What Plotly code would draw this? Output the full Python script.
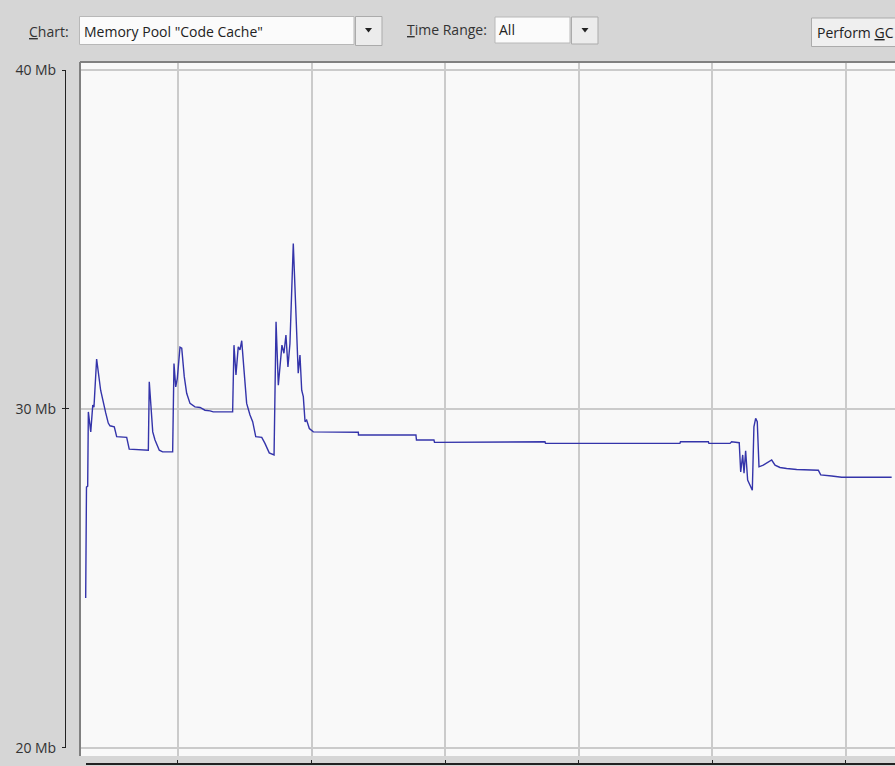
import plotly.graph_objects as go

# ------------------------------------------------------------------ #
# Data: memory pool "Code Cache" usage (minutes since start, Mb)
# ------------------------------------------------------------------ #
TIME_MIN = [
    3.09, 3.15, 3.24, 3.29, 3.47, 3.62, 3.71, 3.91, 4.21, 4.41, 4.59, 4.78,
    4.91, 5.23, 5.41, 6.16, 6.35, 7.78, 7.85, 8.11, 8.28, 8.60, 8.85, 9.60,
    9.70, 9.83, 9.95, 10.15, 10.28, 10.47, 10.65, 10.90, 11.27, 11.65, 12.02,
    12.40, 12.64, 14.09, 14.19, 14.34, 14.51, 14.64, 14.77, 14.94, 15.14,
    15.39, 15.59, 15.82, 16.27, 16.51, 16.83, 17.19, 17.34, 17.51, 17.63,
    17.78, 17.93, 18.08, 18.23, 18.38, 18.63, 18.83, 19.00, 19.13, 19.26,
    19.38, 19.51, 19.63, 19.83, 20.13, 20.38, 22.25, 23.50, 23.51, 27.81,
    27.85, 29.16, 29.20, 33.11, 33.13, 37.47, 37.51, 47.57, 47.61, 49.70,
    49.74, 51.32, 51.44, 52.01, 52.12, 52.27, 52.37, 52.49, 52.64, 52.99,
    53.11, 53.24, 53.36, 53.49, 53.81, 54.44, 54.69, 55.06, 55.56, 56.31,
    57.93, 58.11, 58.93, 59.68, 63.42,
]
POOL_MB = [
    24.42, 27.69, 27.72, 29.91, 29.32, 30.11, 30.05, 31.47, 30.55, 30.17, 29.88, 29.58,
    29.50, 29.47, 29.18, 29.16, 28.81, 28.78, 30.80, 29.32, 29.08, 28.78, 28.73, 28.73,
    31.34, 30.65, 30.90, 31.82, 31.79, 30.95, 30.46, 30.16, 30.06, 30.04, 29.96,
    29.94, 29.91, 29.91, 31.88, 31.00, 31.83, 31.74, 32.01, 31.15, 30.16,
    29.82, 29.62, 29.18, 29.16, 28.98, 28.70, 28.64, 32.57, 30.70, 31.34,
    31.88, 31.64, 32.18, 31.24, 31.93, 34.88, 32.82, 31.05, 31.59, 30.55,
    30.36, 29.62, 29.67, 29.42, 29.32, 29.32, 29.31, 29.31, 29.23, 29.23,
    29.08, 29.08, 29.01, 29.01, 29.03, 29.03, 28.98, 28.98, 29.03, 29.03,
    28.98, 28.98, 29.03, 29.00, 28.14, 28.64, 28.10, 28.76, 27.90, 27.60,
    29.47, 29.72, 29.62, 28.29, 28.34, 28.49, 28.34, 28.27, 28.24, 28.21,
    28.19, 28.05, 28.02, 27.98, 27.98,
]
Y_TICKS = [20, 30, 40]
Y_TICK_TEXT = ["20 Mb", "30 Mb", "40 Mb"]
X_RANGE = [2.665, 63.67]      # visible time window, minutes
MIN_PER_PX = 10 / 133.6        # time scale of the panel

# ------------------------------------------------------------------ #
# Design tokens
# ------------------------------------------------------------------ #
BG = "#d6d6d6"
PANEL = "#f9f9f9"
GRID = "#cbcbcb"
LINE = "#3434aa"
TEXT = "#333333"
AXIS = "#222222"
FONT = "Open Sans, Noto Sans, sans-serif"

W, H = 895, 766
ML, MB = 65, 2
PW, PH = W - ML, H - MB  # paper size in px


def px(x):
    return (x - ML) / PW


def py(y):
    return (PH - y) / PH


fig = go.Figure()
fig.add_trace(go.Scatter(x=TIME_MIN, y=POOL_MB, mode="lines",
                         line=dict(color=LINE, width=1.4), hoverinfo="skip",
                         showlegend=False))
# anchor traces for the free-standing axes
fig.add_trace(go.Scatter(x=[None], y=[None], xaxis="x2", yaxis="y2",
                         showlegend=False, hoverinfo="skip"))
fig.add_trace(go.Scatter(x=[None], y=[None], xaxis="x2", yaxis="y3",
                         showlegend=False, hoverinfo="skip"))

# ------------------------------------------------------------------ #
# Panel + toolbar widgets
# ------------------------------------------------------------------ #
shapes = [dict(type="rect", xref="paper", yref="paper", x0=px(80), x1=1.02,
               y0=py(756), y1=py(63), fillcolor=PANEL, line=dict(width=0),
               layer="below")]


def box(x0, y0, x1, y1, fill, line="#ababab"):
    shapes.append(dict(type="rect", xref="paper", yref="paper",
                       x0=px(x0), x1=px(x1), y0=py(y1), y1=py(y0),
                       fillcolor=fill, line=dict(color=line, width=1), layer="above"))


def arrow(cx, cy):
    shapes.append(dict(type="path", xref="paper", yref="paper", layer="above",
                       path=f"M{px(cx - 3.5)},{py(cy - 2)} L{px(cx + 3.5)},{py(cy - 2)} "
                            f"L{px(cx)},{py(cy + 2.5)} Z",
                       fillcolor=AXIS, line=dict(width=0)))


box(79.5, 16.5, 354, 44.5, "#fbfbfb", "#b8b8b8")
box(355.5, 16.5, 382, 45.5, "#ececec")
arrow(368.5, 30)
box(495, 17, 570, 43, "#fbfbfb", "#b8b8b8")
box(571.5, 17, 598, 44, "#ececec")
arrow(585, 30)
box(811.5, 18, 900, 46.5, "#efefef")

# panel border (sunken look, left + top)
shapes.append(dict(type="line", xref="paper", yref="paper", x0=px(80), x1=px(80),
                   y0=py(756), y1=py(62), line=dict(color="#808080", width=2), layer="above"))
shapes.append(dict(type="line", xref="paper", yref="paper", x0=px(80), x1=1.02,
                   y0=py(62), y1=py(62), line=dict(color="#808080", width=2), layer="above"))

annotations = []


def label(x, y, text, color=TEXT):
    annotations.append(dict(x=px(x), y=py(y), xref="paper", yref="paper", text=text,
                            showarrow=False, xanchor="left", yanchor="middle",
                            font=dict(family=FONT, size=14, color=color)))


label(27, 31, "<u>C</u>hart:")
label(82, 31, 'Memory Pool "Code Cache"', "#222222")
label(405, 30, "<u>T</u>ime Range:")
label(497, 30, "All", "#222222")
label(815, 33, "Perform <u>G</u>C", "#222222")

value_axis = dict(domain=[py(747.7), py(70)], range=[20, 40], anchor="free", position=0,
                  tickvals=Y_TICKS, showgrid=False, zeroline=False, ticklen=3,
                  tickcolor=AXIS, automargin=False, fixedrange=True)

fig.update_layout(
    width=W, height=H,
    margin=dict(l=ML, r=0, t=0, b=MB, pad=0, autoexpand=False),
    paper_bgcolor=BG, plot_bgcolor="rgba(0,0,0,0)",
    font=dict(family=FONT, size=14, color=TEXT),
    showlegend=False,
    xaxis=dict(domain=[px(80), 1], range=X_RANGE, tick0=0, dtick=10,
               showgrid=True, gridcolor=GRID, gridwidth=1.5, zeroline=False,
               showticklabels=False, ticks="", showline=False,
               automargin=False, fixedrange=True),
    # time axis strip under the panel (starts a few px right of the panel edge)
    xaxis2=dict(domain=[px(86), 1], range=[X_RANGE[0] + 6 * MIN_PER_PX, X_RANGE[1]],
                anchor="free", position=0, tick0=0, dtick=10, showgrid=False,
                zeroline=False, showticklabels=False, ticks="inside", ticklen=3,
                tickcolor=AXIS, showline=True, linecolor=AXIS, linewidth=1.5,
                automargin=False, fixedrange=True),
    yaxis=dict(domain=[py(756), py(63)], range=[19.755, 40.207], tick0=0, dtick=10,
               showgrid=True, gridcolor=GRID, gridwidth=1.5, zeroline=False,
               showticklabels=False, ticks="", showline=False, automargin=False,
               fixedrange=True),
    yaxis2=dict(value_axis, ticktext=Y_TICK_TEXT, ticks="outside", showline=True,
                linecolor=AXIS, linewidth=1, ticklabelstandoff=3,
                tickfont=dict(family=FONT, size=14, color=TEXT)),
    yaxis3=dict(value_axis, ticks="inside", showline=False, showticklabels=False),
    shapes=shapes,
    annotations=annotations,
)

fig.write_html("out.html", config=dict(displayModeBar=False),
               post_script="document.body.style.margin='0';"
                           "document.body.style.overflow='hidden';")
